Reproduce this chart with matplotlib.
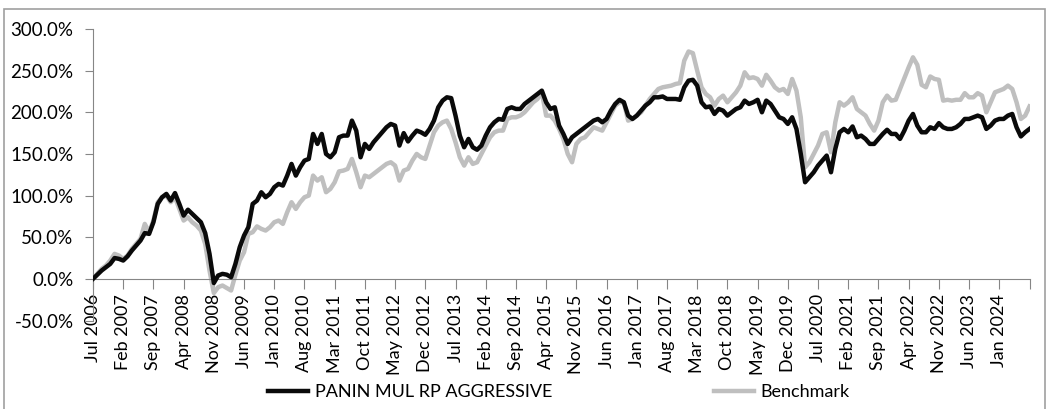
import matplotlib
matplotlib.use("Agg")
import matplotlib.pyplot as plt
from matplotlib.patches import Rectangle
from matplotlib.ticker import FuncFormatter
import numpy as np
import pandas as pd

plt.rcParams['font.family'] = ['Lato', 'DejaVu Sans']

# monthly cumulative return (%), Jul 2006 .. Aug 2024
fund = [
    0, 5, 10, 14, 18, 25, 24, 22, 27, 34,
    40, 46, 55, 54, 68, 90, 98, 102, 94, 103,
    90, 76, 83, 78, 73, 68, 55, 30, -5, 4,
    6, 5, 2, 18, 38, 52, 62, 90, 94, 104,
    98, 102, 110, 114, 112, 124, 138, 124, 134, 142,
    144, 174, 162, 174, 150, 146, 152, 170, 172, 172,
    190, 178, 146, 162, 156, 164, 170, 176, 182, 186,
    184, 160, 175, 165, 172, 178, 176, 173, 180, 190,
    206, 214, 218, 217, 196, 172, 158, 168, 158, 155,
    160, 172, 182, 188, 192, 191, 204, 206, 204, 204,
    210, 214, 218, 222, 226, 212, 204, 206, 184, 174,
    162, 170, 174, 178, 182, 186, 190, 192, 188, 192,
    202, 210, 215, 212, 196, 192, 196, 202, 208, 212,
    218, 218, 219, 216, 216, 216, 215, 230, 238, 239,
    232, 212, 206, 207, 198, 204, 202, 196, 200, 204,
    206, 214, 210, 212, 215, 200, 214, 210, 202, 194,
    192, 186, 194, 180, 150, 116, 122, 128, 136, 142,
    148, 128, 156, 176, 180, 176, 183, 170, 172, 168,
    162, 162, 168, 174, 179, 174, 174, 168, 178, 190,
    198, 184, 176, 176, 182, 180, 187, 182, 180, 180,
    182, 186, 192, 192, 194, 196, 194, 180, 184, 190,
    192, 192, 196, 198, 182, 171, 176, 180,
]

benchmark = [
    0, 6, 12, 16, 22, 30, 28, 24, 28, 36,
    42, 48, 66, 56, 70, 92, 98, 100, 92, 98,
    84, 70, 74, 68, 64, 58, 42, 10, -17, -10,
    -8, -11, -14, 5, 22, 32, 54, 56, 63, 60,
    58, 62, 68, 70, 66, 80, 92, 84, 92, 98,
    100, 124, 118, 122, 104, 108, 116, 129, 130, 132,
    144, 128, 110, 124, 122, 126, 130, 134, 138, 140,
    136, 118, 130, 132, 142, 150, 146, 144, 160, 176,
    184, 188, 190, 180, 164, 146, 136, 146, 138, 140,
    150, 160, 170, 176, 178, 178, 192, 194, 194, 196,
    200, 206, 212, 216, 224, 196, 196, 190, 180, 168,
    150, 140, 162, 168, 170, 176, 182, 180, 178, 188,
    198, 208, 212, 212, 190, 192, 196, 200, 208, 216,
    222, 228, 230, 231, 232, 234, 235, 262, 273, 271,
    250, 230, 222, 218, 208, 216, 220, 212, 218, 224,
    232, 248, 241, 242, 240, 232, 245, 238, 230, 226,
    228, 222, 240, 226, 194, 134, 140, 150, 160, 174,
    176, 152, 188, 212, 208, 212, 218, 204, 200, 196,
    186, 178, 190, 212, 220, 214, 215, 228, 241, 254,
    266, 257, 233, 230, 243, 240, 239, 214, 215, 214,
    215, 215, 223, 218, 218, 223, 220, 200, 212, 224,
    226, 228, 232, 228, 212, 192, 196, 207,
]

series_names = ["PANIN MUL RP AGGRESSIVE", "Benchmark"]
months = pd.date_range("2006-07-01", periods=len(fund), freq="MS")
tick_step = 7
y_ticks = [-50, 0, 50, 100, 150, 200, 250, 300]

W, H = 1047, 409
fig = plt.figure(figsize=(W / 100, H / 100), dpi=100)
ax = fig.add_axes([93 / W, 1 - 320.5 / H, (1029.5 - 93) / W, (320.5 - 29) / H])

# move the category axis to the 0% line first (this rebuilds the ticks)
for s in ['top', 'right']:
    ax.spines[s].set_visible(False)
ax.spines['bottom'].set_position(('data', 0))
ax.spines['left'].set_color('#868686')
ax.spines['bottom'].set_color('#868686')

x = np.arange(len(fund))
ax.plot(x, fund, color='#0A0A0A', lw=3.2, label=series_names[0], zorder=3,
        solid_joinstyle='round')
ax.plot(x, benchmark, color='#BFBFBF', lw=3.2, label=series_names[1], zorder=2,
        solid_joinstyle='round')

ax.set_xlim(0, len(fund) - 1)
ax.set_ylim(-50, 300)
ax.set_yticks(y_ticks)
ax.yaxis.set_major_formatter(FuncFormatter(lambda v, p: f"{v:.1f}%"))

xt = list(range(0, len(fund), tick_step))
ax.set_xticks(xt)
labels = [months[i].strftime("%b %Y") if i < len(fund) - 1 else "" for i in xt]
ax.set_xticklabels(labels)

ax.tick_params(axis='y', length=6, color='#868686', labelsize=13.5, pad=8)
ax.tick_params(axis='x', length=7, color='#868686', labelsize=13, pad=4,
               labelrotation=90)
for t in ax.get_xticklabels():
    t.set_verticalalignment('top')
    t.set_horizontalalignment('center')

fig.legend(loc='center', bbox_to_anchor=(559 / W, 1 - 392 / H), ncol=2,
           frameon=False, fontsize=13, handlelength=2.2, handletextpad=0.35,
           columnspacing=9.0)

fig.patches.append(Rectangle((4 / W, -0.05), (1045 - 4) / W, 1.05 - 9 / H,
                             transform=fig.transFigure, fill=False,
                             edgecolor='#A0A0A0', lw=1.2))

fig.savefig("out.png", dpi=100)
